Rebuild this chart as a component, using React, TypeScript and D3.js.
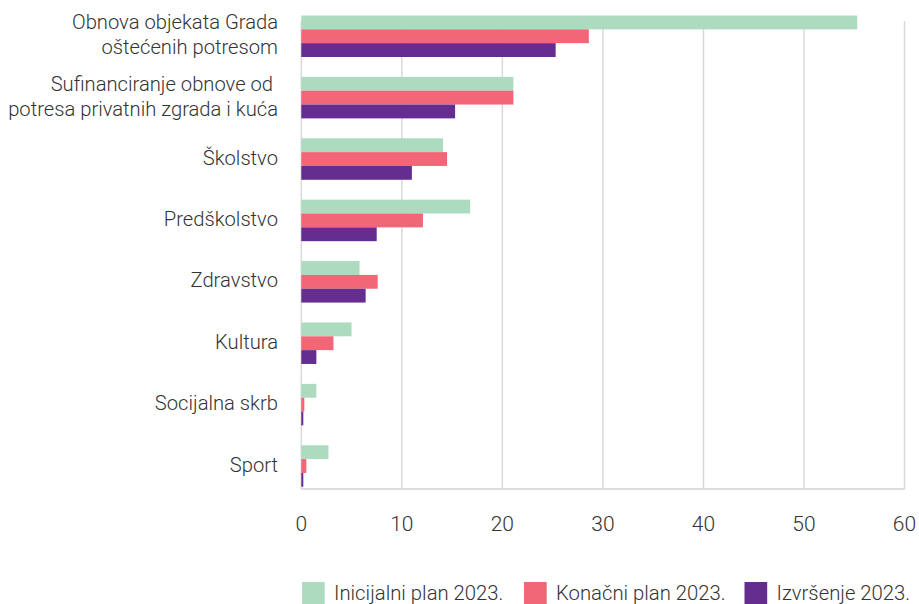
import React from "react";
import * as d3 from "d3";

const categories = [
  ["Obnova objekata Grada", "oštećenih potresom"],
  ["Sufinanciranje obnove od ", "potresa privatnih zgrada i kuća"],
  ["Školstvo"],
  ["Predškolstvo"],
  ["Zdravstvo"],
  ["Kultura"],
  ["Socijalna skrb"],
  ["Sport"],
];
const seriesNames = ["Inicijalni plan 2023.", "Konačni plan 2023.", "Izvršenje 2023."];
const inicijalni = [55.3, 21.1, 14.1, 16.8, 5.8, 5.0, 1.5, 2.7];
const konacni = [28.6, 21.1, 14.5, 12.1, 7.6, 3.2, 0.3, 0.5];
const izvrsenje = [25.3, 15.3, 11.0, 7.5, 6.4, 1.5, 0.2, 0.2];
const xTicks = [0, 10, 20, 30, 40, 50, 60];
const colors = ["#ADDBC0", "#F26778", "#652D90"];

const W = 919;
const H = 604;
const FONT = "Roboto, 'DejaVu Sans', sans-serif";

export default function App() {
  const series = [inicijalni, konacni, izvrsenje];
  const idx = categories.map((_, i) => String(i));
  const x = d3.scaleLinear().domain([0, 60]).range([301.3, 904.5]);
  const y = d3.scaleBand().domain(idx).range([5.55, 496.7]).paddingInner(0.324).paddingOuter(0.162);
  const ys = d3.scaleBand().domain(["0", "1", "2"]).range([0, y.bandwidth()]);
  const gridTop = 21;
  const gridBottom = 489;

  const legendX = [302, 524, 744.5];

  return (
    <svg width={W} height={H} style={{ position: "absolute", left: 0, top: 0 }} fontFamily={FONT}>
      {xTicks.map((t) => (
        <line key={t} x1={x(t)} x2={x(t)} y1={gridTop} y2={gridBottom} stroke="#d9d9d9" strokeWidth={1.5} />
      ))}
      <line x1={x(0)} x2={x(60)} y1={gridBottom} y2={gridBottom} stroke="#d0d0d0" strokeWidth={1.5} />
      {series.map((vals, s) =>
        vals.map((v, i) => (
          <rect
            key={`${s}-${i}`}
            x={x(0)}
            y={(y(String(i)) as number) + (ys(String(s)) as number)}
            width={x(v) - x(0)}
            height={ys.bandwidth()}
            fill={colors[s]}
          />
        ))
      )}
      {xTicks.map((t) => (
        <text key={t} x={x(t)} y={531} textAnchor="middle" fontSize={21} fontWeight={300} fill="#333">
          {t}
        </text>
      ))}
      {categories.map((lines, i) => {
        const cy = (y(String(i)) as number) + y.bandwidth() / 2;
        const lh = 25;
        const start = cy - ((lines.length - 1) * lh) / 2;
        return lines.map((ln, j) => (
          <text
            key={`${i}-${j}`}
            x={278}
            y={start + j * lh + 5.5}
            textAnchor="end"
            fontSize={20.2}
            fontWeight={300}
            fill="#333"
            style={{ whiteSpace: "pre" }}
          >
            {ln}
          </text>
        ));
      })}
      {seriesNames.map((n, s) => (
        <g key={n}>
          <rect x={legendX[s]} y={582} width={22.7} height={22} fill={colors[s]} />
          <text x={legendX[s] + 32} y={593} dy="0.35em" fontSize={20.3} fontWeight={300} fill="#333">
            {n}
          </text>
        </g>
      ))}
    </svg>
  );
}
